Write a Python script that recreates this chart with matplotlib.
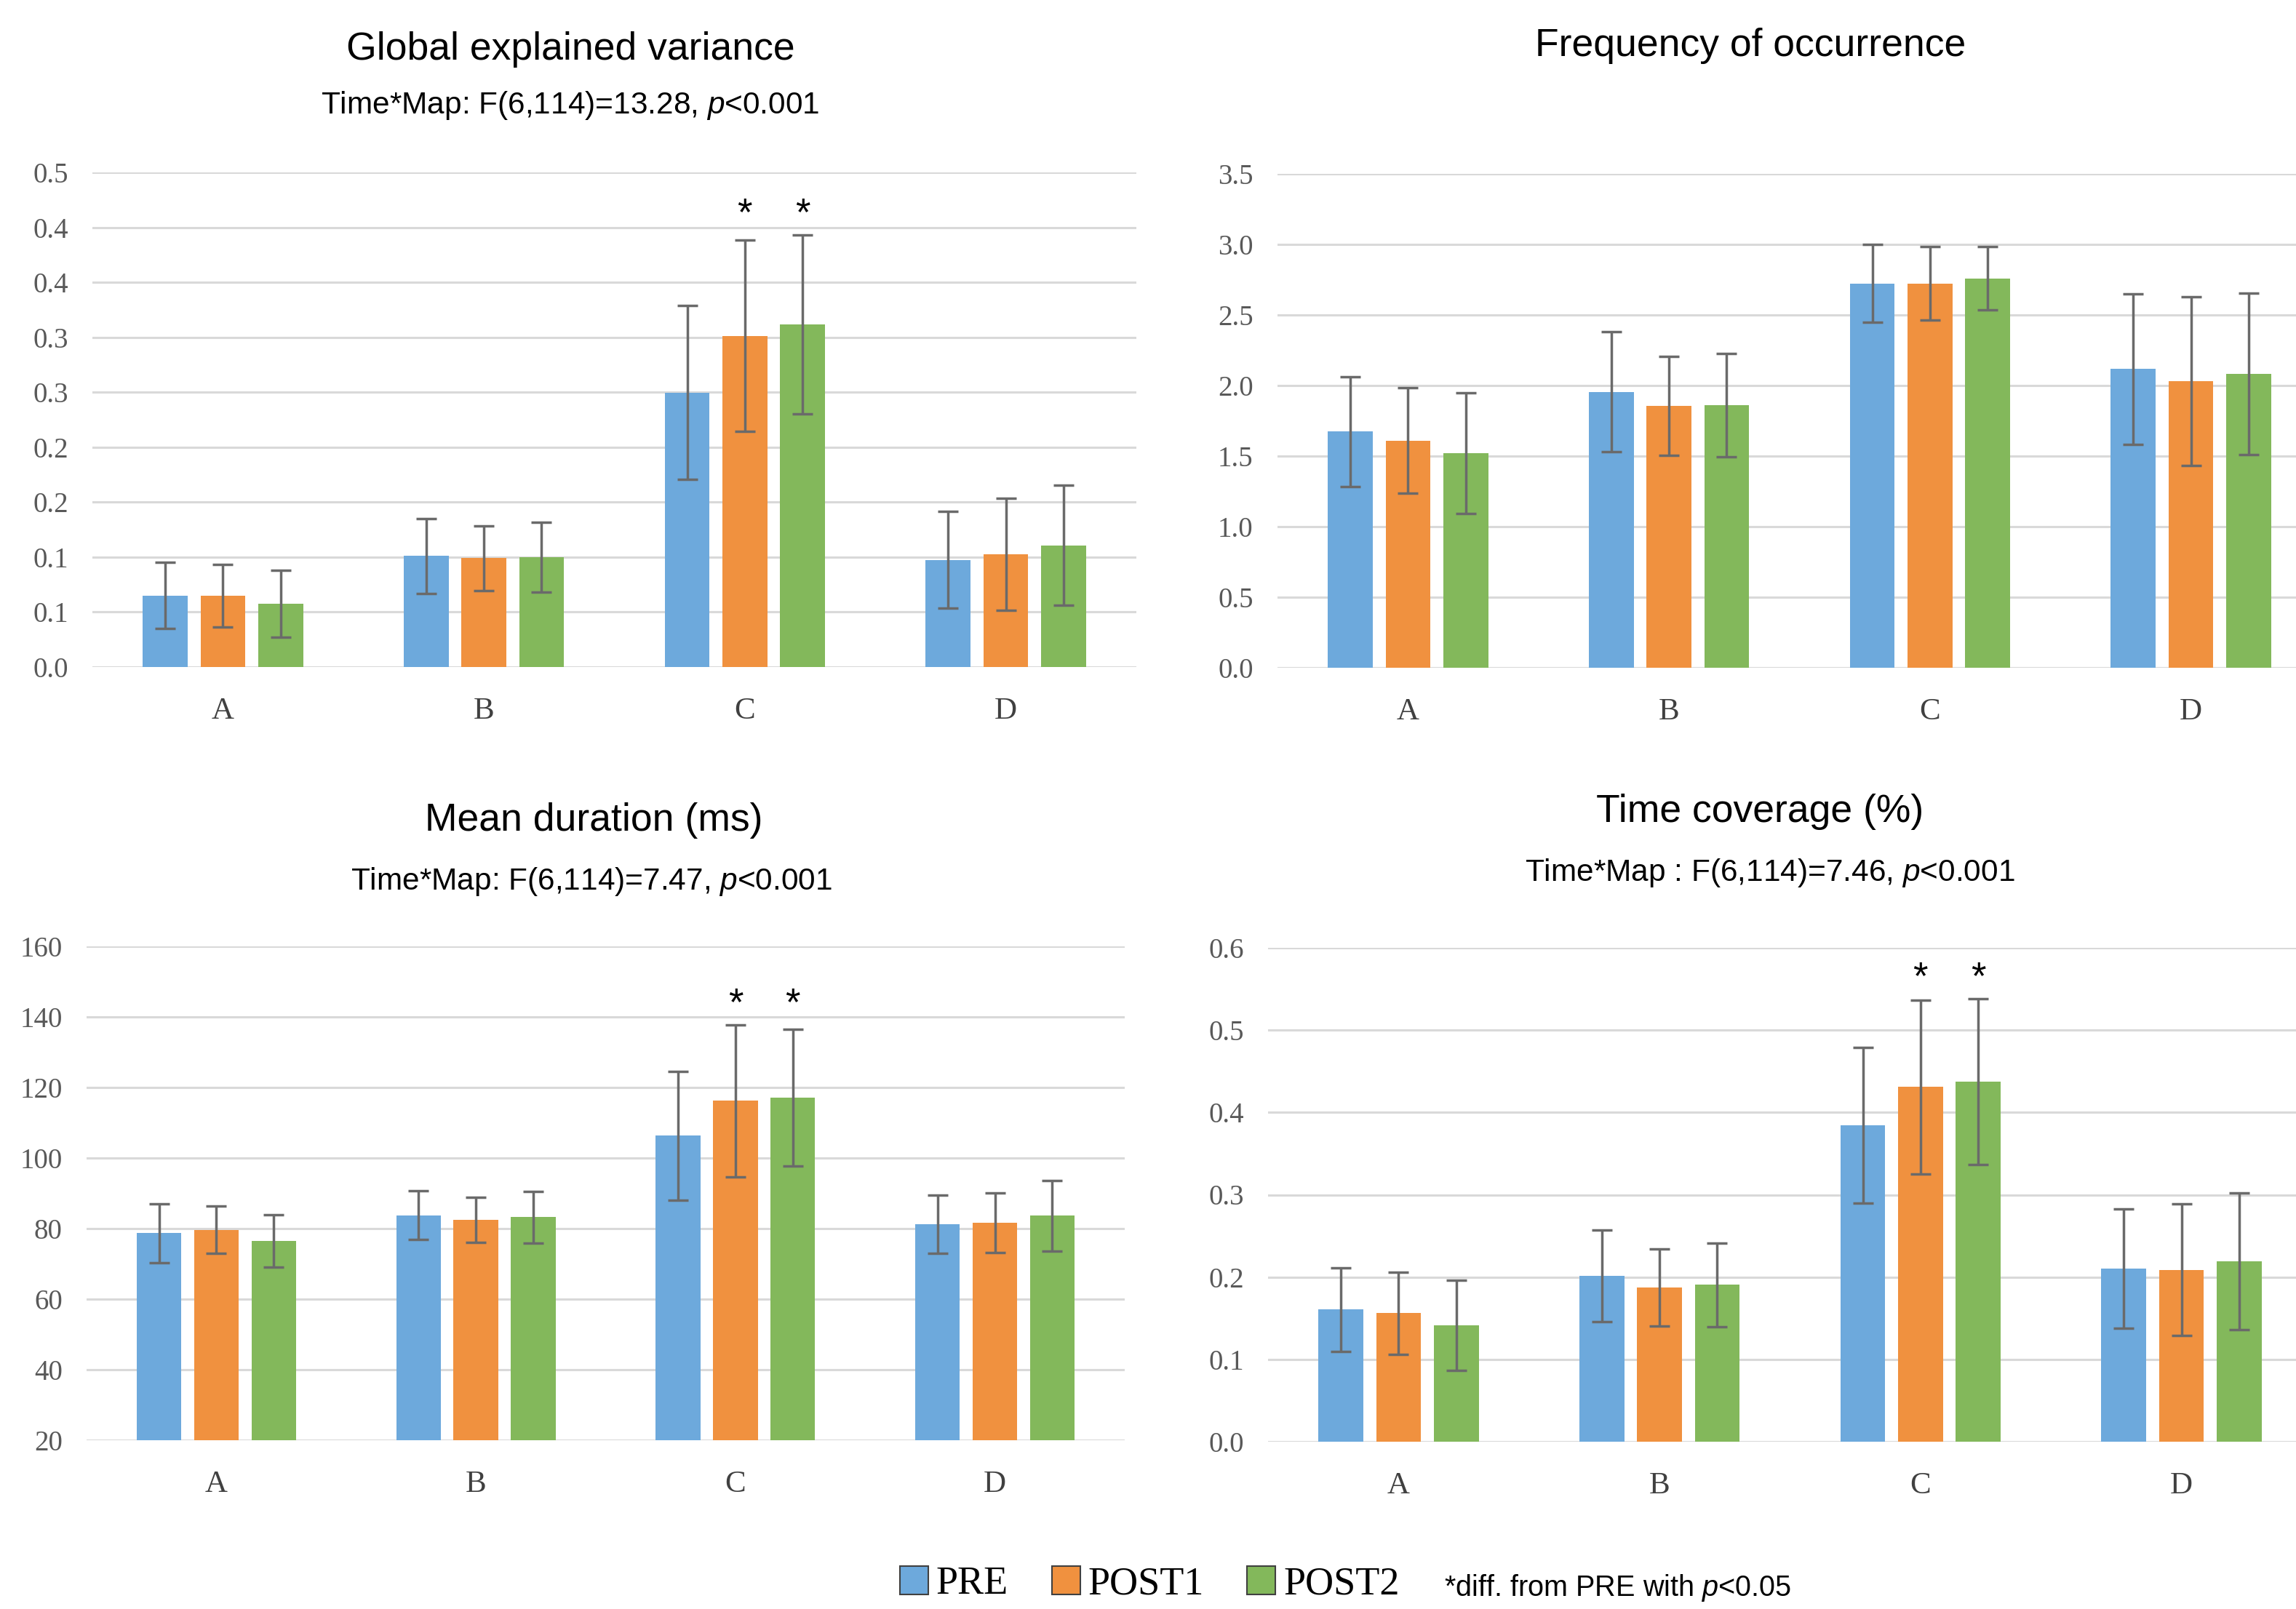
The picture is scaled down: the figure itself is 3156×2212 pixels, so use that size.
import matplotlib
matplotlib.use("Agg")
import matplotlib.pyplot as plt
from matplotlib.patches import Patch
import numpy as np

plt.rcParams['mathtext.fontset'] = 'custom'
plt.rcParams['mathtext.rm'] = 'Liberation Sans'
plt.rcParams['mathtext.it'] = 'Liberation Sans:italic'

categories = ['A', 'B', 'C', 'D']
series = ['PRE', 'POST1', 'POST2']
colors = ['#6DA9DC', '#F0913F', '#83B85B']

# Global explained variance
gev_mean = {'PRE':   [0.065, 0.101, 0.2497, 0.0976],
            'POST1': [0.065, 0.099, 0.3013, 0.1027],
            'POST2': [0.0575, 0.0997, 0.3118, 0.1107]}
gev_err = {'PRE':   [0.030, 0.034, 0.079, 0.044],
           'POST1': [0.0285, 0.0297, 0.087, 0.051],
           'POST2': [0.0305, 0.0317, 0.0815, 0.0545]}
gev_ticks = [0.0, 0.05, 0.10, 0.15, 0.20, 0.25, 0.30, 0.35, 0.40, 0.45]
gev_ticklabels = ['0.0', '0.1', '0.1', '0.2', '0.2', '0.3', '0.3', '0.4', '0.4', '0.5']

# Frequency of occurrence
freq_mean = {'PRE':   [1.673, 1.955, 2.724, 2.116],
             'POST1': [1.610, 1.857, 2.724, 2.031],
             'POST2': [1.521, 1.863, 2.760, 2.083]}
freq_err = {'PRE':   [0.388, 0.425, 0.276, 0.531],
            'POST1': [0.375, 0.350, 0.260, 0.598],
            'POST2': [0.429, 0.366, 0.222, 0.572]}
freq_ticks = [0.0, 0.5, 1.0, 1.5, 2.0, 2.5, 3.0, 3.5]
freq_ticklabels = ['0.0', '0.5', '1.0', '1.5', '2.0', '2.5', '3.0', '3.5']

# Mean duration (ms)
dur_mean = {'PRE':   [78.7, 83.8, 106.3, 81.2],
            'POST1': [79.6, 82.4, 116.2, 81.7],
            'POST2': [76.5, 83.2, 117.1, 83.65]}
dur_err = {'PRE':   [8.3, 6.9, 18.3, 8.25],
           'POST1': [6.7, 6.4, 21.6, 8.5],
           'POST2': [7.45, 7.4, 19.35, 9.95]}
dur_ticks = [20, 40, 60, 80, 100, 120, 140, 160]
dur_ticklabels = ['20', '40', '60', '80', '100', '120', '140', '160']

# Time coverage (%)
cov_mean = {'PRE':   [0.1604, 0.2012, 0.3846, 0.2101],
            'POST1': [0.1562, 0.1876, 0.4308, 0.2089],
            'POST2': [0.1414, 0.1905, 0.4373, 0.2195]}
cov_err = {'PRE':   [0.051, 0.0556, 0.0944, 0.0725],
           'POST1': [0.050, 0.047, 0.106, 0.080],
           'POST2': [0.0545, 0.0506, 0.101, 0.083]}
cov_ticks = [0.0, 0.1, 0.2, 0.3, 0.4, 0.5, 0.6]
cov_ticklabels = ['0.0', '0.1', '0.2', '0.3', '0.4', '0.5', '0.6']

# significance marks (category index, series)
sig_marks = [(2, 'POST1'), (2, 'POST2')]

titles = ['Global explained variance', 'Frequency of occurrence',
          'Mean duration (ms)', 'Time coverage (%)']
subtitles = ['Time*Map: F(6,114)=13.28, $p$<0.001', None,
             'Time*Map: F(6,114)=7.47, $p$<0.001',
             'Time*Map : F(6,114)=7.46, $p$<0.001']
note = '*diff. from PRE with $p$<0.05'

W, H = 3156, 2212
fig = plt.figure(figsize=(W / 100, H / 100), dpi=100)

def rect(l, r, t, b):
    return [l / W, 1 - b / H, (r - l) / W, (b - t) / H]

panels = [
    dict(rect=rect(127, 1562, 237, 917), mean=gev_mean, err=gev_err, ylim=(0, 0.45),
         ticks=gev_ticks, labels=gev_ticklabels, sig=True,
         title_xy=(784, 68), sub_xy=(784, 145)),
    dict(rect=rect(1756, 3191, 239, 918), mean=freq_mean, err=freq_err, ylim=(0, 3.5),
         ticks=freq_ticks, labels=freq_ticklabels, sig=False,
         title_xy=(2406, 63), sub_xy=None),
    dict(rect=rect(119, 1546, 1301, 1980), mean=dur_mean, err=dur_err, ylim=(20, 160),
         ticks=dur_ticks, labels=dur_ticklabels, sig=True,
         title_xy=(816, 1128), sub_xy=(813, 1212)),
    dict(rect=rect(1743, 3178, 1303, 1982), mean=cov_mean, err=cov_err, ylim=(0, 0.6),
         ticks=cov_ticks, labels=cov_ticklabels, sig=True,
         title_xy=(2419, 1116), sub_xy=(2433, 1200)),
]

x = np.arange(len(categories))
bw = 0.172
offs = [-0.221, 0.0, 0.221]

for i, p in enumerate(panels):
    ax = fig.add_axes(p['rect'])
    ax.set_xlim(-0.5, 3.5)
    ax.set_ylim(*p['ylim'])
    for j, s in enumerate(series):
        ax.bar(x + offs[j], p['mean'][s], width=bw, color=colors[j], zorder=2)
        ax.errorbar(x + offs[j], p['mean'][s], yerr=p['err'][s], fmt='none',
                    ecolor='#6A6A6A', elinewidth=2.5, capsize=10, capthick=2.5, zorder=3)
    ax.set_yticks(p['ticks'])
    ax.set_yticklabels(p['labels'], fontfamily='Liberation Serif', fontsize=28, color='#595959')
    ax.set_xticks(x)
    ax.set_xticklabels(categories, fontfamily='Liberation Serif', fontsize=31, color='#404040')
    ax.tick_params(axis='y', length=0, pad=24)
    ax.tick_params(axis='x', length=0, pad=30)
    for sp in ax.spines.values():
        sp.set_visible(False)
    ax.yaxis.grid(True, color='#D9D9D9', linewidth=2.2, zorder=0)
    ax.set_axisbelow(True)
    if p['sig']:
        grp_top = max(p['mean'][s][2] + p['err'][s][2] for s in series)
        for ci, s in sig_marks:
            j = series.index(s)
            ax.annotate('*', xy=(x[ci] + offs[j], grp_top), xytext=(0, 10),
                        textcoords='offset points', ha='center', va='baseline',
                        fontsize=38, fontfamily='Liberation Sans', color='black')
    tx, ty = p['title_xy']
    fig.text(tx / W, 1 - ty / H, titles[i], ha='center', va='center',
             fontsize=38.5, fontfamily='Liberation Sans', color='black')
    if p['sub_xy'] is not None:
        sx, sy = p['sub_xy']
        fig.text(sx / W, 1 - sy / H, subtitles[i], ha='center', va='center',
                 fontsize=30.5, fontfamily='Liberation Sans', color='black')

handles = [Patch(facecolor=c, edgecolor='#404040', linewidth=1.5) for c in colors]
fig.legend(handles, series, loc='center left', bbox_to_anchor=(1237 / W, 1 - 2178 / H),
           ncol=3, frameon=False, prop={'family': 'Liberation Serif', 'size': 39},
           handlelength=0.72, handleheight=0.72, handletextpad=0.2, columnspacing=1.1,
           borderpad=0, borderaxespad=0)
fig.text(1985 / W, 1 - 2194 / H, note, ha='left', va='baseline', fontsize=28.5,
         fontfamily='Liberation Sans', color='black')

fig.savefig('out.png', dpi=100, facecolor='white')
